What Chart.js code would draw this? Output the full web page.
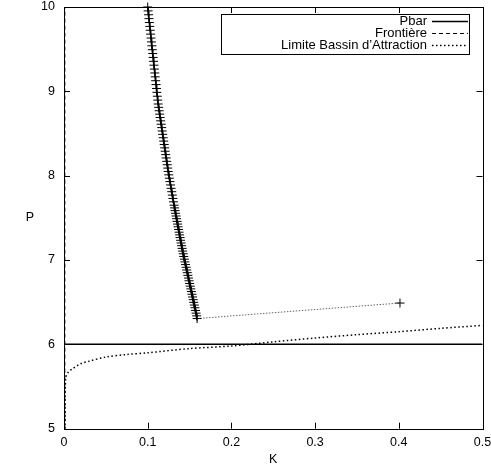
<!DOCTYPE html>
<html>
<head>
<meta charset="utf-8">
<script src="https://cdn.jsdelivr.net/npm/chart.js@4"></script>
<style>
  body { margin: 0; background: #fff; }
  canvas { display: block; }
</style>
</head>
<body>
<canvas id="chart" width="491" height="469"></canvas>
<script>
// axis ranges and tick steps
const kRange = [0, 0.5];
const pRange = [5, 10];
const kStep = 0.1;
const pStep = 1;

// legend labels
const legendLabels = ['Pbar', 'Frontière', 'Limite Bassin d\u2019Attraction'];

// Pbar (horizontal line)
const pbarK = [0, 0.5];
const pbarP = [6, 6];

// Frontière (vertical dashed line near K = 0)
const frontK = [0.001, 0.001];
const frontP = [5, 10];

// Limite Bassin d'Attraction
const limK = [0.0015, 0.002, 0.005, 0.01, 0.02, 0.03, 0.05, 0.075, 0.1, 0.15, 0.2, 0.25, 0.3, 0.35, 0.4, 0.45, 0.5];
const limP = [5.0, 5.6, 5.67, 5.71, 5.77, 5.80, 5.85, 5.88, 5.90, 5.95, 5.98, 6.03, 6.075, 6.115, 6.15, 6.19, 6.225];

// trajectory with + markers (last point joined by the thin dotted segment)
const curveK = [
  0.1000, 0.1005, 0.1010, 0.1015, 0.1020, 0.1025, 0.1030, 0.1035, 0.1040, 0.1045,
  0.1050, 0.1055, 0.1060, 0.1065, 0.1070, 0.1075, 0.1080, 0.1085, 0.1090, 0.1095,
  0.1100, 0.1105, 0.1110, 0.1115, 0.1120, 0.1125,
  0.1131, 0.1137, 0.1143, 0.1149, 0.1155, 0.1161, 0.1167, 0.1173, 0.1179, 0.1185,
  0.1191, 0.1197, 0.1203, 0.1209, 0.1215, 0.1221, 0.1227, 0.1233, 0.1239, 0.1245,
  0.1252, 0.1259, 0.1266, 0.1273, 0.1280, 0.1287, 0.1294, 0.1301, 0.1308, 0.1315,
  0.1321, 0.1327, 0.1333, 0.1339, 0.1345, 0.1351, 0.1357, 0.1363, 0.1369, 0.1375,
  0.1381, 0.1387, 0.1393, 0.1399, 0.1405, 0.1411, 0.1417, 0.1424, 0.1431, 0.1438,
  0.1445, 0.1452, 0.1459, 0.1466, 0.1473, 0.1480, 0.1487, 0.1494, 0.1501, 0.1508,
  0.1515, 0.1522, 0.1529, 0.1536, 0.1543, 0.1550, 0.1557, 0.1564, 0.1571, 0.1578,
  0.1585, 0.1590,
  0.4014
];
const curveP = [
  10.000, 9.954, 9.908, 9.862, 9.816, 9.770, 9.724, 9.678, 9.632, 9.586,
  9.540, 9.494, 9.448, 9.402, 9.356, 9.310, 9.264, 9.218, 9.172, 9.126,
  9.080, 9.034, 8.988, 8.942, 8.896, 8.850,
  8.81, 8.77, 8.73, 8.69, 8.65, 8.61, 8.57, 8.53, 8.49, 8.45,
  8.41, 8.37, 8.33, 8.29, 8.25, 8.21, 8.17, 8.13, 8.09, 8.05,
  8.01, 7.97, 7.93, 7.89, 7.85, 7.81, 7.77, 7.73, 7.69, 7.65,
  7.618, 7.586, 7.554, 7.522, 7.490, 7.458, 7.426, 7.394, 7.362, 7.330,
  7.298, 7.266, 7.234, 7.202, 7.170, 7.138, 7.106, 7.074, 7.042, 7.010,
  6.978, 6.946, 6.914, 6.882, 6.850, 6.818, 6.786, 6.754, 6.722, 6.690,
  6.658, 6.626, 6.594, 6.562, 6.530, 6.498, 6.466, 6.434, 6.402, 6.370,
  6.338, 6.306,
  6.490
];

function toPoints(xs, ys) {
  return xs.map((x, i) => ({ x: x, y: ys[i] }));
}

const FONT = '"Liberation Sans", Arial, Helvetica, sans-serif';
const lastIdx = curveK.length - 1;

// border, inward ticks on all four sides, legend box and the P label
const framePlugin = {
  id: 'frame',
  afterDraw(chart) {
    const c = chart.ctx;
    const a = chart.chartArea;
    const xs = chart.scales.x;
    const ys = chart.scales.y;
    const tl = 6;
    c.save();
    c.strokeStyle = '#000';
    c.lineWidth = 1;
    c.setLineDash([]);
    c.strokeRect(Math.round(a.left) + 0.5, Math.round(a.top) + 0.5,
      Math.round(a.right - a.left), Math.round(a.bottom - a.top));
    c.beginPath();
    xs.ticks.forEach(t => {
      const px = Math.round(xs.getPixelForValue(t.value)) + 0.5;
      c.moveTo(px, a.bottom); c.lineTo(px, a.bottom - tl);
      c.moveTo(px, a.top); c.lineTo(px, a.top + tl);
    });
    ys.ticks.forEach(t => {
      const py = Math.round(ys.getPixelForValue(t.value)) + 0.5;
      c.moveTo(a.left, py); c.lineTo(a.left + tl, py);
      c.moveTo(a.right, py); c.lineTo(a.right - tl, py);
    });
    c.stroke();

    // y axis label, upright as in the original
    c.fillStyle = '#000';
    c.font = '12.5px ' + FONT;
    c.textAlign = 'center';
    c.textBaseline = 'middle';
    c.fillText('P', 30, (a.top + a.bottom) / 2);

    // legend
    const boxL = 221.5, boxT = 14.5, boxW = 248, boxH = 40;
    c.strokeRect(boxL, boxT, boxW, boxH);
    c.font = '13px ' + FONT;
    c.textAlign = 'right';
    const rows = [21, 33, 45];
    legendLabels.forEach((label, i) => {
      const ds = chart.data.datasets[i];
      c.fillText(label, 427, rows[i]);
      c.beginPath();
      c.lineWidth = ds.borderWidth;
      c.setLineDash(ds.borderDash || []);
      c.moveTo(432, rows[i] + 0.5);
      c.lineTo(468, rows[i] + 0.5);
      c.stroke();
    });
    c.restore();
  }
};

function noPad(s) {
  s.paddingTop = 0;
  s.paddingBottom = 0;
  s.paddingLeft = 0;
  s.paddingRight = 0;
}

new Chart(document.getElementById('chart'), {
  type: 'scatter',
  data: {
    datasets: [
      {
        label: legendLabels[0],
        data: toPoints(pbarK, pbarP),
        showLine: true,
        borderColor: '#000',
        borderWidth: 1.5,
        pointRadius: 0
      },
      {
        label: legendLabels[1],
        data: toPoints(frontK, frontP),
        showLine: true,
        borderColor: '#000',
        borderWidth: 1,
        borderDash: [4, 3],
        pointRadius: 0
      },
      {
        label: legendLabels[2],
        data: toPoints(limK, limP),
        showLine: true,
        borderColor: '#000',
        borderWidth: 1.5,
        borderDash: [1.5, 2.5],
        pointRadius: 0,
        tension: 0.3
      },
      {
        label: 'trajectoire',
        data: toPoints(curveK, curveP),
        showLine: true,
        borderColor: '#000',
        borderWidth: 1.5,
        pointStyle: 'cross',
        pointRadius: 4.5,
        pointBorderWidth: 1,
        pointBorderColor: '#000',
        clip: false,
        segment: {
          borderDash: ctx => ctx.p1DataIndex === lastIdx ? [1.5, 1.5] : undefined,
          borderWidth: ctx => ctx.p1DataIndex === lastIdx ? 0.8 : undefined,
          borderColor: ctx => ctx.p1DataIndex === lastIdx ? '#444' : undefined
        }
      }
    ]
  },
  options: {
    responsive: false,
    animation: false,
    layout: { padding: { top: 7, right: 8.5, left: 0, bottom: 0 } },
    plugins: {
      legend: { display: false },
      tooltip: { enabled: false }
    },
    scales: {
      x: {
        type: 'linear',
        min: kRange[0],
        max: kRange[1],
        grid: { display: false, drawTicks: false },
        border: { display: false },
        ticks: {
          stepSize: kStep,
          color: '#000',
          padding: 6,
          maxRotation: 0,
          font: { family: FONT, size: 12.5 },
          callback: v => v === 0 ? '0' : v.toFixed(1)
        },
        title: {
          display: true,
          text: 'K',
          color: '#000',
          padding: { top: 0, bottom: 2 },
          font: { family: FONT, size: 12.5 }
        },
        afterFit: s => { s.height = 40.3; noPad(s); }
      },
      y: {
        type: 'linear',
        min: pRange[0],
        max: pRange[1],
        grid: { display: false, drawTicks: false },
        border: { display: false },
        ticks: {
          stepSize: pStep,
          color: '#000',
          padding: 9,
          font: { family: FONT, size: 12.5 }
        },
        afterFit: s => { s.width = 64; noPad(s); }
      }
    }
  },
  plugins: [framePlugin]
});
</script>
</body>
</html>
